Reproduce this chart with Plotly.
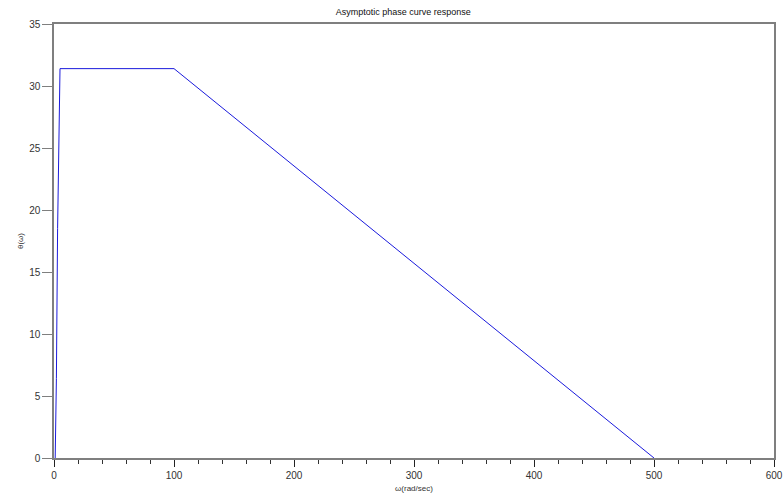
import plotly.graph_objects as go

# Data
omega = [1, 2, 3, 4, 5, 100, 500]
theta = [0, 6.4, 18.5, 24.7, 31.4, 31.4, 0]

x_ticks = [0, 100, 200, 300, 400, 500, 600]
y_ticks = [0, 5, 10, 15, 20, 25, 30, 35]

fig = go.Figure()
fig.add_trace(go.Scatter(x=omega, y=theta, mode="lines",
                         line=dict(color="#1a1adc", width=1), showlegend=False))

axis_col = "#7f7f7f"
fig.update_layout(
    width=783, height=500,
    margin=dict(l=54, r=9, t=24, b=42, autoexpand=False),
    paper_bgcolor="white", plot_bgcolor="white",
    font=dict(family="Liberation Sans, Arial, sans-serif", color="#333333"),
    title=dict(text="Asymptotic phase curve response", x=0.515, xanchor="center",
               y=0.976, yanchor="middle", font=dict(size=9, color="#111111")),
)
fig.update_xaxes(
    range=[0, 600], tickvals=x_ticks, ticktext=[str(v) for v in x_ticks],
    showgrid=False, zeroline=False, showline=True, linecolor=axis_col, linewidth=1.5,
    mirror=True, ticks="outside", ticklen=7, tickwidth=1.2, tickcolor="#222222",
    tickfont=dict(size=10, color="#333333"),
    minor=dict(dtick=20, ticks="outside", ticklen=4, tickwidth=1, tickcolor="#333333", showgrid=False),
    title=dict(text="ω(rad/sec)", font=dict(size=8, color="#333333"), standoff=6),
)
fig.update_yaxes(
    range=[0, 35], tickvals=y_ticks, ticktext=[str(v) for v in y_ticks],
    showgrid=False, zeroline=False, showline=True, linecolor=axis_col, linewidth=1.5,
    mirror=True, ticks="outside", ticklen=10, tickwidth=1.2, tickcolor=axis_col,
    tickfont=dict(size=10, color="#333333"),
    title=dict(text="θ(ω)", font=dict(size=8, color="#333333"), standoff=4),
)

fig.write_html(
    "out.html",
    config={"displayModeBar": False},
    post_script="document.body.style.margin='0';document.body.style.overflow='hidden';",
)
